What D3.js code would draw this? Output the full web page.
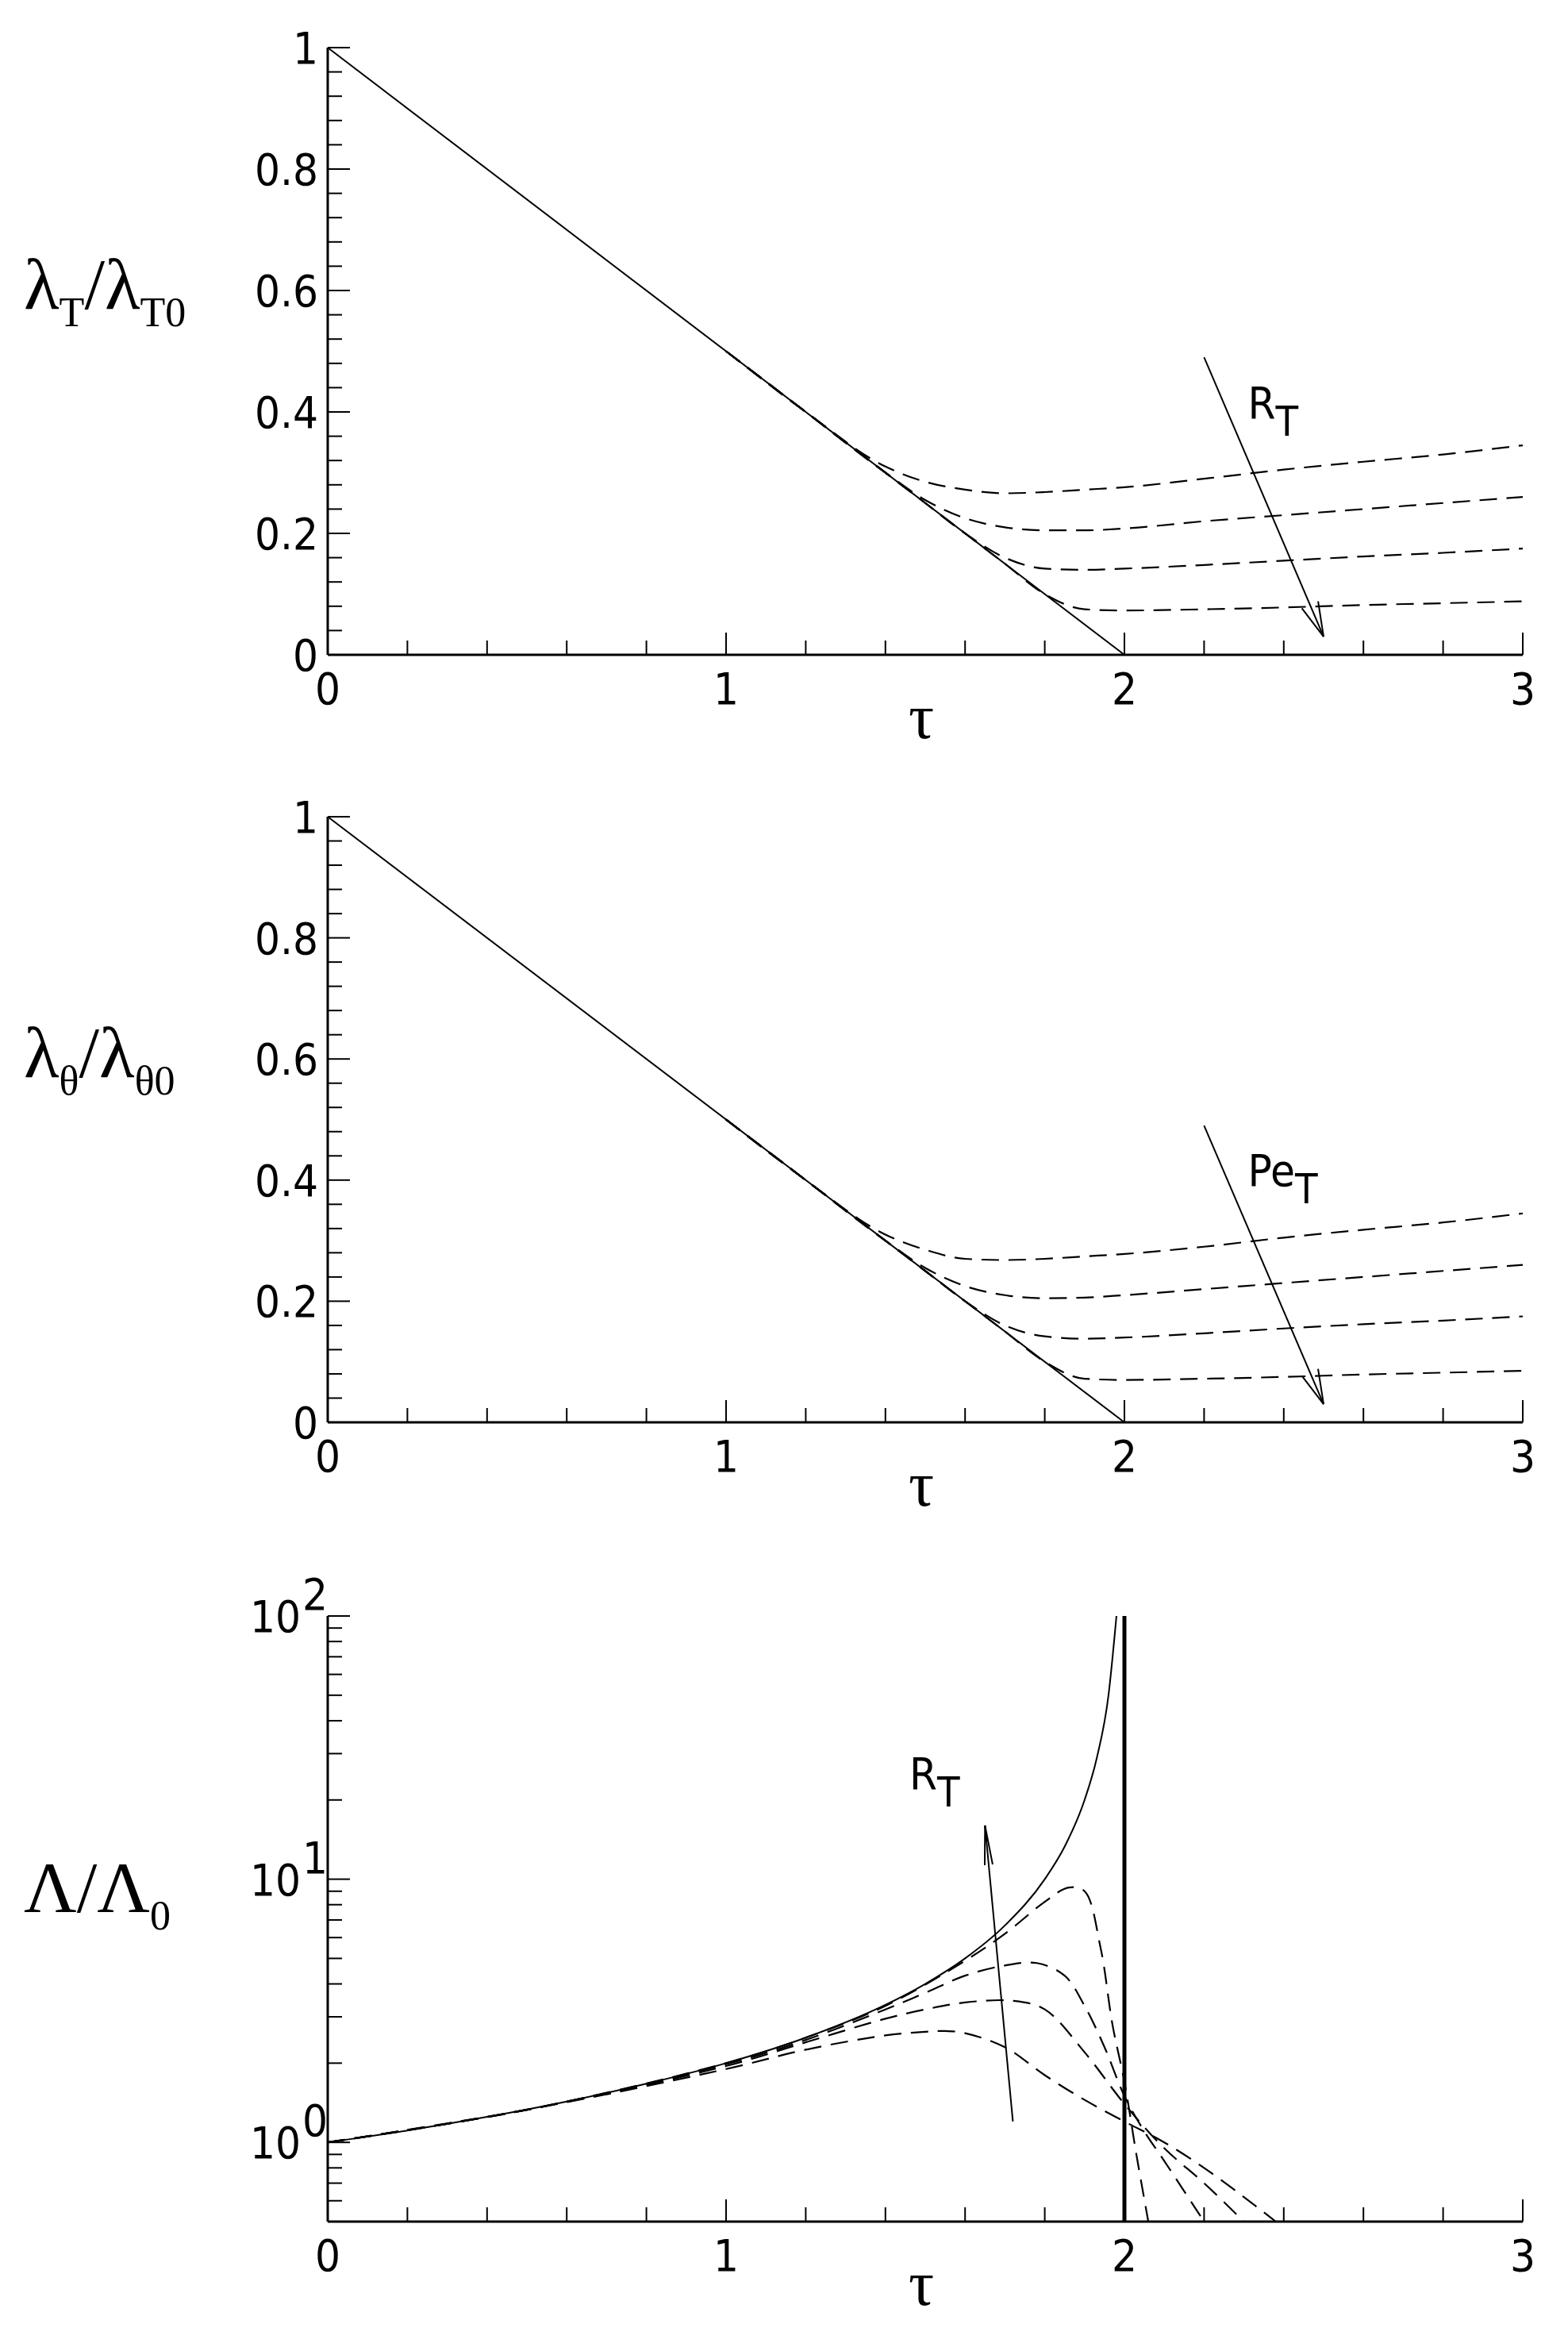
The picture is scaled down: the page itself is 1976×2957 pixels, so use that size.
<!DOCTYPE html>
<html><head><meta charset="utf-8">
<script src="https://cdn.jsdelivr.net/npm/d3@7"></script>
<style>
body{margin:0;background:#fff}
text{fill:#000}
.tk{font-family:"Liberation Sans Narrow","DejaVu Sans Condensed",sans-serif;font-size:56px}
.lab{font-family:"Liberation Serif",serif}
</style></head><body>
<svg id="c" width="1976" height="2957"></svg>
<script>
// top panel: lambda_T / lambda_T0 vs tau
const tauLin = [0, 2];
const lamLin = [1, 0];
const tauDash = [1.0, 1.2, 1.4, 1.5, 1.6, 1.7, 1.8, 1.9, 2.0, 2.2, 2.4, 2.6, 2.8, 3.0];
const topDash = [
  [0.50, 0.40, 0.31, 0.285, 0.272, 0.266, 0.268, 0.272, 0.276, 0.29, 0.305, 0.318, 0.33, 0.345],
  [0.50, 0.40, 0.30, 0.255, 0.225, 0.21, 0.205, 0.205, 0.208, 0.22, 0.23, 0.24, 0.25, 0.26],
  [0.50, 0.40, 0.30, 0.25, 0.20, 0.16, 0.142, 0.14, 0.142, 0.148, 0.155, 0.162, 0.168, 0.175],
  [0.50, 0.40, 0.30, 0.25, 0.20, 0.15, 0.10, 0.075, 0.073, 0.075, 0.078, 0.082, 0.085, 0.088]
];
const midDash = [
  [0.50, 0.40, 0.31, 0.285, 0.27, 0.268, 0.27, 0.274, 0.278, 0.29, 0.305, 0.318, 0.33, 0.345],
  [0.50, 0.40, 0.30, 0.255, 0.225, 0.21, 0.205, 0.206, 0.21, 0.22, 0.23, 0.24, 0.25, 0.26],
  [0.50, 0.40, 0.30, 0.25, 0.20, 0.16, 0.142, 0.138, 0.14, 0.147, 0.155, 0.162, 0.168, 0.175],
  [0.50, 0.40, 0.30, 0.25, 0.20, 0.15, 0.10, 0.072, 0.07, 0.072, 0.075, 0.079, 0.082, 0.085]
];
// bottom panel: Lambda / Lambda_0 (log)
const tauSolid = [0, 0.2, 0.4, 0.6, 0.8, 1.0, 1.2, 1.4, 1.5, 1.6, 1.7, 1.8, 1.85, 1.9, 1.93, 1.96, 1.98];
const lamSolid = [1, 1.11, 1.25, 1.43, 1.67, 2, 2.5, 3.33, 4, 5, 6.67, 10, 13.3, 20, 28.6, 50, 100];
const botDash = [
  {t:[0,0.5,1.0,1.2,1.4,1.6,1.7,1.8,1.86,1.9,1.94,1.97,2.0,2.03,2.06], v:[1,1.33,2,2.5,3.3,4.9,6.2,8.2,9.3,9.0,5.5,2.8,1.7,0.9,0.5]},
  {t:[0,0.5,1.0,1.2,1.4,1.5,1.6,1.7,1.78,1.85,1.9,1.95,2.0,2.05,2.1,2.2], v:[1,1.33,1.98,2.45,3.2,3.7,4.3,4.7,4.8,4.3,3.3,2.3,1.5,1.1,0.85,0.5]},
  {t:[0,0.5,1.0,1.2,1.4,1.5,1.6,1.72,1.8,1.9,2.0,2.1,2.2,2.3], v:[1,1.33,1.95,2.4,2.95,3.2,3.4,3.45,3.2,2.2,1.4,0.95,0.7,0.5]},
  {t:[0,0.5,1.0,1.2,1.4,1.5,1.55,1.6,1.7,1.8,1.9,2.0,2.1,2.2,2.3,2.38], v:[1,1.33,1.9,2.25,2.55,2.63,2.65,2.6,2.3,1.8,1.45,1.2,1.0,0.8,0.62,0.5]}
];
const xTicks = [0, 1, 2, 3];
const yTicksLin = [0, 0.2, 0.4, 0.6, 0.8, 1];

const svg = d3.select('#c');
const X0 = 413, X1 = 1919;
const x = d3.scaleLinear().domain([0, 3]).range([X0, X1]);

function xAxis(g, y0) {
  g.append('line').attr('x1', X0).attr('x2', X1).attr('y1', y0).attr('y2', y0).attr('stroke', '#000').attr('stroke-width', 3);
  d3.range(0, 3.01, 0.2).forEach(t => {
    const major = Math.abs(t - Math.round(t)) < 1e-6;
    g.append('line').attr('x1', x(t)).attr('x2', x(t)).attr('y1', y0).attr('y2', y0 - (major ? 28 : 18)).attr('stroke', '#000').attr('stroke-width', 2);
  });
  xTicks.forEach(t => g.append('text').attr('class', 'tk').attr('x', x(t)).attr('y', y0 + 62).attr('text-anchor', 'middle').text(t));
  g.append('text').attr('class', 'lab').attr('x', x(1.5) - 5).attr('y', y0 + 105).attr('text-anchor', 'middle').attr('font-size', 80).text('τ');
}
function yAxisLine(g, y) {
  g.append('line').attr('x1', X0).attr('x2', X0).attr('y1', y.range()[0]).attr('y2', y.range()[1]).attr('stroke', '#000').attr('stroke-width', 3);
}
function linPanel(yTop, yBot, dash, lab1, lab2, arrowLab) {
  const g = svg.append('g');
  const y = d3.scaleLinear().domain([0, 1]).range([yBot, yTop]);
  yAxisLine(g, y);
  d3.range(0, 1.001, 0.04).forEach(v => {
    const major = Math.abs(v * 5 - Math.round(v * 5)) < 1e-6;
    g.append('line').attr('x1', X0).attr('x2', X0 + (major ? 28 : 18)).attr('y1', y(v)).attr('y2', y(v)).attr('stroke', '#000').attr('stroke-width', 2);
  });
  yTicksLin.forEach(v => g.append('text').attr('class', 'tk').attr('x', X0 - 12).attr('y', y(v) + 20).attr('text-anchor', 'end').text(v));
  xAxis(g, yBot);
  const line = d3.line().x(d => x(d[0])).y(d => y(d[1])).curve(d3.curveMonotoneX);
  g.append('path').attr('d', line(d3.zip(tauLin, lamLin))).attr('fill', 'none').attr('stroke', '#000').attr('stroke-width', 2);
  dash.forEach(s => g.append('path').attr('d', line(d3.zip(tauDash, s))).attr('fill', 'none').attr('stroke', '#000').attr('stroke-width', 2.2).attr('stroke-dasharray', '22,12'));
  // arrow
  const ax1 = x(2.2), ay1 = y(0.49), ax2 = x(2.5), ay2 = y(0.03);
  g.append('line').attr('x1', ax1).attr('y1', ay1).attr('x2', ax2).attr('y2', ay2).attr('stroke', '#000').attr('stroke-width', 2);
  const ang = Math.atan2(ay2 - ay1, ax2 - ax1);
  [0.25, -0.25].forEach(d => g.append('line').attr('x1', ax2).attr('y1', ay2)
    .attr('x2', ax2 - 45 * Math.cos(ang + d)).attr('y2', ay2 - 45 * Math.sin(ang + d)).attr('stroke', '#000').attr('stroke-width', 2));
  const t = g.append('text').attr('class', 'tk').attr('x', x(2.31)).attr('y', y(0.39)).attr('font-size', 76);
  t.append('tspan').text(arrowLab);
  t.append('tspan').attr('dy', 22).attr('font-size', 52).text('T');
  // y label
  const l = g.append('text').attr('class', 'lab').attr('x', 30).attr('y', (y(0.57))).attr('font-size', 92);
  l.append('tspan').text('λ');
  l.append('tspan').attr('dy', 22).attr('font-size', 52).text(lab1);
  l.append('tspan').attr('dy', -22).text('/λ');
  l.append('tspan').attr('dy', 22).attr('font-size', 52).text(lab2);
}
linPanel(60, 825, topDash, 'T', 'T0', 'R');
linPanel(1029, 1792, midDash, 'θ', 'θ0', 'Pe');

// bottom log panel
(function () {
  const g = svg.append('g');
  const yTop = 2036, yBot = 2799;
  const y = d3.scaleLog().domain([0.5, 100]).range([yBot, yTop]);
  yAxisLine(g, y);
  [0.5, 0.6, 0.7, 0.8, 0.9, 1, 2, 3, 4, 5, 6, 7, 8, 9, 10, 20, 30, 40, 50, 60, 70, 80, 90, 100].forEach(v => {
    const major = [1, 10, 100].includes(v);
    g.append('line').attr('x1', X0).attr('x2', X0 + (major ? 28 : 18)).attr('y1', y(v)).attr('y2', y(v)).attr('stroke', '#000').attr('stroke-width', 2);
  });
  [[1, '0'], [10, '1'], [100, '2']].forEach(([v, e]) => {
    const t = g.append('text').attr('class', 'tk').attr('x', X0 - 34).attr('y', y(v) + 20).attr('text-anchor', 'end').text('10');
    g.append('text').attr('class', 'tk').attr('x', X0 - 32).attr('y', y(v) - 8).attr('font-size', 32).text(e);
  });
  xAxis(g, yBot);
  const line = d3.line().x(d => x(d[0])).y(d => y(d[1])).curve(d3.curveMonotoneX);
  g.append('path').attr('d', line(d3.zip(tauSolid, lamSolid))).attr('fill', 'none').attr('stroke', '#000').attr('stroke-width', 2);
  g.append('line').attr('x1', x(2)).attr('x2', x(2)).attr('y1', y(100)).attr('y2', yBot).attr('stroke', '#000').attr('stroke-width', 5);
  botDash.forEach(s => g.append('path').attr('d', d3.line().x(d => x(d[0])).y(d => y(d[1])).curve(d3.curveCatmullRom)(d3.zip(s.t, s.v)))
    .attr('fill', 'none').attr('stroke', '#000').attr('stroke-width', 2.2).attr('stroke-dasharray', '22,12'));
  const ax1 = x(1.72), ay1 = y(1.2), ax2 = x(1.65), ay2 = y(16);
  g.append('line').attr('x1', ax1).attr('y1', ay1).attr('x2', ax2).attr('y2', ay2).attr('stroke', '#000').attr('stroke-width', 2);
  const ang = Math.atan2(ay2 - ay1, ax2 - ax1);
  [0.1, -0.1].forEach(d => g.append('line').attr('x1', ax2).attr('y1', ay2)
    .attr('x2', ax2 - 50 * Math.cos(ang + d)).attr('y2', ay2 - 50 * Math.sin(ang + d)).attr('stroke', '#000').attr('stroke-width', 2));
  const t = g.append('text').attr('class', 'tk').attr('x', x(1.46)).attr('y', y(22)).attr('font-size', 76);
  t.append('tspan').text('R');
  t.append('tspan').attr('dy', 22).attr('font-size', 52).text('T');
  const l = g.append('text').attr('class', 'lab').attr('x', 30).attr('y', y(7.5)).attr('font-size', 92);
  l.append('tspan').text('Λ/Λ');
  l.append('tspan').attr('dy', 22).attr('font-size', 52).text('0');
})();
</script></body></html>
